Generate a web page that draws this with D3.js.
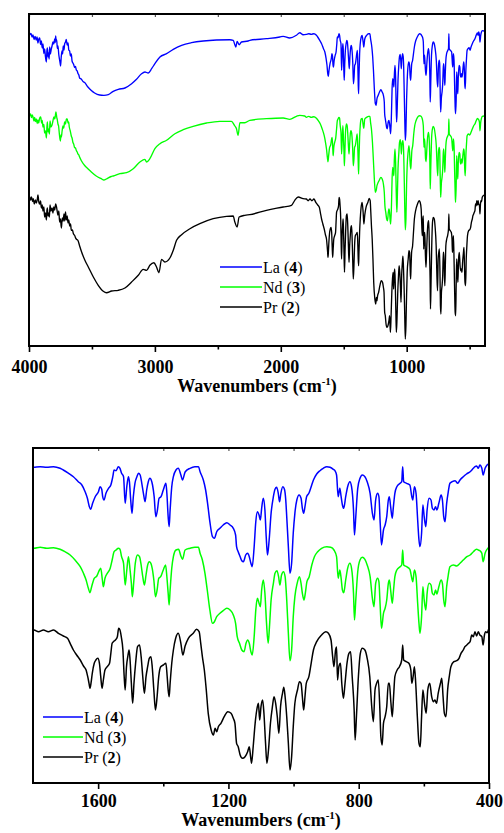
<!DOCTYPE html>
<html>
<head>
<meta charset="utf-8">
<script src="https://cdn.jsdelivr.net/npm/d3@7"></script>
<style>
  body { margin: 0; background: #fff; }
  svg { display: block; }
  svg text { font-family: "Liberation Serif", "Times New Roman", "DejaVu Serif", serif; }
</style>
</head>
<body>
<svg id="chart" width="504" height="833"></svg>
<script>
// IR spectra, [wavenumber (cm-1), relative transmittance]
const laSpectrum = [
  [4000,156],[3995,155],[3985,156.5],[3975,153],[3968,155],[3960,150.5],[3952,153.5],[3942,150],[3936,153],[3929,147],[3922,151],[3915,152],[3908,145.5],[3902,149],[3895,142],[3889,146],[3882,136.5],[3876,141],[3869,133],[3862,128],[3858,139],[3854,142],[3849,133],[3844,137],[3840,131],[3836,143],[3830,136],[3823,141],[3817,144],[3810,148],[3803,146],[3796,151],[3792,147.5],[3788,154],[3784,149],[3780,150],[3775,141.5],[3770,144],[3763,135],[3757,130],[3753,127],[3749,124],[3744,133],[3738,139],[3733,136],[3728,144],[3722,140],[3717,146],[3710,148],[3704,150.5],[3697,145],[3690,147],[3684,140],[3677,139],[3671,134],[3664,136],[3658,129],[3651,127],[3645,125.5],[3638,122.5],[3631,123.5],[3624,120],[3617,119],[3611,116.5],[3604,115],[3598,112],[3585,111],[3571,108.5],[3558,107.5],[3532,103],[3505,99.5],[3479,97],[3439,95],[3405,94.7],[3370,95.3],[3331,98.7],[3291,100.7],[3238,102],[3185,106.3],[3146,110.7],[3106,116.3],[3079,118],[3053,117],[3026,121.3],[3000,126.3],[2960,133],[2907,136.3],[2854,140.7],[2788,144.7],[2709,147.3],[2616,149],[2511,150],[2405,150.3],[2378,149.7],[2365,145.3],[2357,143],[2347,148.7],[2331,145.3],[2312,148],[2259,149],[2246,149.7],[2114,151.3],[2008,153],[1981,153.7],[1929,152],[1876,154.7],[1849,157.3],[1823,155.3],
  [1797,155.7],[1778,156.3],[1758,155.7],[1737,156.3],[1717,154.7],[1707,153],[1691,149.7],[1676,146.3],[1661,141.3],[1650,138],[1640,131.3],[1633,124.7],[1627,116.3],[1623,113.7],[1617,119.7],[1609,126.3],[1599,131.3],[1594,136.3],[1589,133.7],[1586,126.3],[1582,123],[1576,129.7],[1568,134.7],[1561,138],[1555,146.3],[1551,153],[1545,152.3],[1538,156.3],[1533,154.7],[1528,149.7],[1522,146.3],[1517,119.7],[1512,136.3],[1507,146.3],[1504,141.3],[1500,123],[1496,109.7],[1492,126.3],[1487,139.7],[1481,146.3],[1476,149.7],[1471,148],[1466,139.7],[1461,129.7],[1456,121.3],[1451,133],[1446,141.3],[1441,144.7],[1437,143],[1433,138],[1428,126.3],[1423,106.3],[1418,113],[1413,124.7],[1407,126.3],[1400,133],[1392,139.7],[1389,129.7],[1385,106.3],[1382,96.3],[1379,113],[1374,136.3],[1369,146.3],[1361,153],[1354,154.7],[1346,148],[1341,143],[1333,151],[1318,154.7],[1303,156.3],[1292,156.3],[1287,151.3],[1277,143],[1270,133],[1264,119.7],[1257,101.3],[1249,86.3],[1243,84.7],[1236,91.3],[1226,94.7],[1216,98],[1205,100.3],[1195,98],[1185,94.7],[1178,88],[1175,76.3],[1170,71.3],[1164,66.3],[1159,62.3],[1154,61.3],[1147,68],[1141,69.7],[1136,66.3],[1131,59.7],[1127,56.3],[1121,76.3],[1116,101.3],[1111,111.3],[1106,108],[1102,103],[1098,114.7],[1093,124.7],[1088,113],[1084,86.3],[1080,68],[1075,83],[1069,109.7],[1062,126.3],[1057,133.7],[1052,135.7],[1047,129.7],[1043,121.3],[1039,129.7],[1033,136.3],[1028,133.7],[1024,123],[1021,106.3],[1016,76.3],[1011,49.7],[1006,59.7],[1001,89.7],[996,109.7],[990,123],[983,128],[977,124.7],[973,114.7],[969,109.7],[965,116.3],[960,126.3],[953,129.7],[946,136.3],[939,143],[929,149],[919,152.3],[909,154.7],[898,156.3],[888,155.7],[878,153.7],[873,152.3],[868,148],[863,126.3],[858,134.7],[854,126.3],[850,118],[846,114.7],[840,126.3],[834,136.3],[827,141.3],[822,136.3],[816,113],[813,88],[809,106.3],[803,134.7],[796,144.7],[789,148],[781,146.3],[774,141.3],[765,129.7],[758,109.7],[753,103],[748,123],[742,129.7],[738,126.3],[734,99.7],[730,78],[724,93],[719,98],[714,106.3],[709,123],[706,126.3],[702,116.3],[697,104.7],[694,114.7],[689,129.7],[683,136.3],[673,139.7],[668,141.3],[665,156.3],[662,141.3],[653,139.7],[643,138],[637,126.3],[634,123],[629,136.3],[624,129.7],[619,103],[615,83],[612,76.3],[607,89.7],[603,118],[599,106.3],[594,96.3],[590,113],[584,124.7],[578,123],[574,114.7],[569,113],[564,116.3],[560,113],[554,119.7],[547,128],[543,123],[539,106.3],[535,101.3],[530,119.7],[525,131.3],[520,139.7],[513,141.3],[504,142.3],[496,139.7],[489,143],[479,146.3],[469,149],[458,151.3],[448,154.7],[443,156.3],[438,157],[433,154.7],[428,158],[422,154.7],[418,148],[412,154.7],[406,158],[400,159.3],[385,159]
];

const ndSpectrum = [
  [4000,157.3],[3995,156],[3988,158],[3980,154.5],[3974,157],[3968,155],[3960,151],[3955,154.5],[3948,150.5],[3942,153],[3935,148.5],[3929,152],[3923,149],[3915,154],[3907,155],[3900,149],[3895,151.5],[3889,145],[3882,147.5],[3876,139],[3869,141],[3862,134],[3858,144],[3854,150],[3849,140],[3844,143],[3838,138],[3833,151],[3826,145],[3817,147],[3810,151],[3802,155],[3795,153],[3786,160],[3780,155],[3775,152],[3770,148],[3765,146],[3758,137],[3751,131],[3746,137],[3743,135],[3737,141],[3730,146],[3724,144],[3717,150],[3710,148],[3703,153],[3696,153],[3690,149],[3685,150],[3680,145],[3672,141],[3664,136],[3658,134],[3651,129.5],[3645,128],[3638,124.5],[3631,124],[3624,121.5],[3617,120],[3611,118],[3604,117],[3598,115],[3585,111.5],[3558,106.5],[3532,103.3],[3505,100],[3466,96],[3426,93.3],[3405,92],[3386,93],[3347,95.5],[3331,96],[3278,98.3],[3225,99.3],[3172,103.3],[3119,110],[3079,112.7],[3066,110],[3040,113.3],[3000,123.3],[2960,128.3],[2907,131.7],[2841,138.3],[2775,142.3],[2696,145.7],[2590,149],[2484,150.7],[2392,150.7],[2365,146],[2352,143.3],[2339,136.7],[2325,149.3],[2286,149.3],[2246,151.7],[2114,153.3],[1981,154],[1929,152.7],[1876,155.7],[1849,156.7],[1810,156],
  [1797,154.7],[1778,155.7],[1758,154.7],[1737,155.3],[1717,153.7],[1702,151.3],[1686,148],[1671,143],[1655,136.3],[1645,129.7],[1637,123],[1630,114.7],[1625,110.3],[1620,116.3],[1612,124.7],[1604,127],[1596,133],[1592,134.7],[1587,123],[1584,116.3],[1579,124.7],[1572,129.7],[1563,134.7],[1557,143],[1551,151.3],[1545,153],[1538,154.7],[1533,153.7],[1528,146.3],[1522,139.7],[1517,118],[1512,133],[1507,146.3],[1502,133],[1498,119.7],[1495,106.3],[1491,119.7],[1486,139.7],[1479,148],[1473,146.3],[1468,138],[1463,126.3],[1458,118],[1453,128],[1448,138],[1443,141.3],[1438,139.7],[1434,134.7],[1429,123],[1424,106.3],[1419,113],[1414,124.7],[1408,126.3],[1400,133],[1393,138],[1389,126.3],[1385,109.7],[1382,98],[1379,113],[1374,134.7],[1369,146.3],[1361,153],[1353,153.7],[1346,147],[1341,143.7],[1333,153],[1318,154.7],[1303,155.7],[1292,155.7],[1287,149.7],[1280,143],[1272,129.7],[1265,113],[1257,93],[1249,79.7],[1243,81.3],[1236,86.3],[1226,89.7],[1216,92.3],[1205,94.7],[1195,93],[1185,88],[1178,79.7],[1173,66.3],[1166,59.7],[1159,53],[1152,51.3],[1146,59.7],[1141,63],[1136,59.7],[1131,51.3],[1127,48],[1121,66.3],[1116,93],[1111,104.7],[1106,99.7],[1102,96.3],[1098,113],[1093,123],[1088,109.7],[1083,79.7],[1078,59.7],[1074,76.3],[1069,103],[1062,119.7],[1057,129.7],[1051,132.3],[1046,126.3],[1042,118],[1037,128],[1031,131.3],[1026,126.3],[1021,103],[1016,69.7],[1011,42.3],[1006,53],[1001,86.3],[996,106.3],[989,119.7],[982,126.3],[977,119.7],[973,109.7],[968,103],[964,109.7],[959,121.3],[952,126.3],[944,138],[936,146.3],[926,151.3],[914,154.7],[898,156.3],[886,155.7],[876,153],
  [868,146.3],[863,124.7],[858,133],[854,124.7],[850,113],[846,110.3],[840,123],[834,134.7],[827,139.7],[822,134.7],[816,109.7],[813,83],[809,103],[803,131.3],[796,143],[789,145.7],[781,143.7],[774,138],[765,126.3],[758,104.7],[753,96.3],[748,119.7],[742,124.7],[738,121.3],[734,96.3],[730,74.7],[724,89.7],[719,94.7],[714,103],[709,119.7],[706,123],[702,113],[697,99.7],[693,113],[689,126.3],[683,133],[673,136.3],[668,138],[665,153],[662,138],[653,136.3],[643,133.7],[637,124.7],[634,121.3],[629,133],[624,126.3],[619,99.7],[615,79.7],[612,69.7],[607,86.3],[603,116.3],[599,103],[594,93],[590,109.7],[584,119.7],[578,118],[574,109.7],[569,108],[564,113],[560,109],[554,116.3],[547,123],[543,119.7],[539,103],[535,96.3],[530,116.3],[525,128],[520,136.3],[509,138],[499,137],[489,139.7],[479,143],[468,146.3],[458,148],[448,151.3],[438,153.7],[433,153],[428,152.3],[422,149.7],[418,141.3],[412,149.7],[406,153.7],[400,155.7],[385,156]
];

const prSpectrum = [
  [4000,156.7],[3995,155],[3988,152],[3980,155],[3972,150.5],[3966,153.3],[3958,148],[3950,152],[3942,149],[3935,152],[3929,157],[3922,150],[3915,148],[3908,151],[3902,144],[3895,147],[3889,141],[3882,145],[3876,135],[3869,139],[3862,132],[3858,141],[3854,144],[3849,136],[3844,139],[3838,135],[3833,147],[3826,141],[3817,144],[3810,139],[3803,145],[3796,142],[3788,148],[3780,144],[3775,140],[3770,137],[3763,141],[3757,130],[3750,133],[3743,124],[3738,131],[3735,134],[3728,131],[3722,138],[3716,131],[3710,140],[3704,132],[3697,136],[3690,129],[3684,132],[3677,126],[3670,128],[3664,121.7],[3655,122],[3648,118.5],[3638,116.7],[3627,113.3],[3611,111.5],[3600,107],[3582,100],[3556,91.7],[3529,85],[3489,75],[3450,66.7],[3410,60.7],[3384,59.3],[3344,61],[3291,61.7],[3238,64],[3185,70],[3132,76.7],[3093,82.7],[3066,81.7],[3040,86.7],[3008,89.3],[2987,85],[2968,79.3],[2947,92.7],[2921,90],[2881,94],[2854,101.7],[2828,111.7],[2788,117.3],[2722,123.3],[2643,128.3],[2537,133.3],[2431,135.7],[2378,136],[2365,130],[2347,125],[2331,135],[2286,136.7],[2246,137.3],[2114,141.7],[1981,145],[1915,146.7],[1889,151.7],[1862,155],[1823,153.3],
  [1797,153],[1783,151.3],[1768,153],[1753,151.3],[1737,153],[1722,149.7],[1707,147],[1694,144.7],[1686,139.7],[1676,133],[1666,128],[1655,123],[1645,117],[1637,113],[1632,106.3],[1628,99.7],[1625,94.7],[1622,99.7],[1618,109.7],[1612,119.7],[1607,123],[1601,124.7],[1596,119.7],[1592,106.3],[1588,94.7],[1584,103],[1579,113],[1572,116.3],[1565,119.7],[1561,129.7],[1557,139.7],[1553,141.3],[1547,143],[1541,146.3],[1537,154.7],[1533,153],[1529,146.3],[1524,133],[1520,106.3],[1517,93],[1513,116.3],[1509,126.3],[1505,133],[1502,123],[1498,99.7],[1494,79.7],[1490,99.7],[1485,119.7],[1479,136.3],[1473,138],[1468,126.3],[1463,106.3],[1458,89.7],[1453,106.3],[1448,116.3],[1443,124.7],[1438,126.3],[1434,116.3],[1429,93],[1424,73],[1419,86.3],[1414,106.3],[1408,116.3],[1400,118],[1392,119.7],[1388,106.3],[1385,93],[1382,86.3],[1379,99.7],[1374,119.7],[1369,133],[1362,144.7],[1354,149.7],[1346,139.7],[1340,128],[1333,137],[1323,144.7],[1308,149.7],[1298,153.7],[1290,151.3],[1285,139.7],[1280,126.3],[1274,113],[1268,93],[1262,69.7],[1253,53],[1246,48],[1241,54.7],[1236,51.3],[1231,56.3],[1223,59.7],[1213,66.3],[1202,71.3],[1192,69.7],[1185,64.7],[1180,59.7],[1175,39.7],[1170,36.3],[1164,28],[1157,24.7],[1149,26.3],[1141,31.3],[1136,36.3],[1132,26.3],[1129,19.7],[1124,36.3],[1118,59.7],[1113,73],[1108,79.7],[1104,63],[1100,76.3],[1095,83],[1091,69.7],[1086,39.7],[1082,19.7],[1077,33],[1071,59.7],[1065,76.3],[1060,86.3],[1055,79.7],[1050,66.3],[1045,49.7],[1040,76.3],[1034,89.7],[1030,95.7],[1026,86.3],[1021,66.3],[1016,39.7],[1011,13],[1006,26.3],[1001,56.3],[996,79.7],[988,93],[982,101.3],[977,99.7],[973,86.3],[969,73],[965,86.3],[961,99.7],[953,106.3],[946,119.7],[939,133],[929,141.3],[914,148],[901,151.3],[893,149.7],[885,143],[880,126.3],[876,116.3],[871,133],[868,136],[865,103],[861,116.3],[856,119.7],[852,99.7],[847,84.7],[842,99.7],[836,119.7],[830,129.7],[825,131.3],[820,106.3],[814,73],[811,43],[807,66.3],[801,106.3],[795,129.7],[789,134.7],[781,133],[774,124.7],[766,106.3],[760,76.3],[755,61.3],[750,93],[745,99.7],[740,103],[735,73],[732,46.3],[728,38],[724,59.7],[719,66.3],[714,76.3],[709,99.7],[706,99.7],[701,79.7],[697,66.3],[693,86.3],[689,106.3],[682,113],[675,116.3],[668,123],[665,138],[662,123],[654,121.3],[646,119.7],[640,113],[637,99.7],[633,106.3],[629,116.3],[625,99.7],[620,66.3],[615,39.7],[611,36.3],[607,66.3],[603,93],[598,79.7],[593,69.7],[588,93],[582,99.7],[576,86.3],[571,81.3],[566,83],[561,79.7],[556,89.7],[549,99.7],[545,104.7],[541,86.3],[537,69.7],[532,66.3],[527,93],[522,106.3],[517,116.3],[508,121.3],[499,122.3],[492,124.7],[486,129.7],[479,133],[474,136.3],[468,138],[463,139.7],[458,141.3],[453,148],[448,146.3],[443,151.3],[438,147],[433,151.3],[428,148],[422,146.3],[418,138],[414,148],[410,151.3],[406,150.3],[402,153],[400,154.7],[385,157]
];

const seriesNames = ["La", "Nd", "Pr"];
const seriesNumbers = ["4", "3", "2"];
const seriesColors = ["#0000ff", "#00ff00", "#000000"];

const fullTicks = [4000, 3000, 2000, 1000];
const fullMinorTicks = [3500, 2500, 1500, 500];
const zoomTicks = [1600, 1200, 800, 400];
const zoomMinorTicks = [1400, 1000, 600];

const spectra = [laSpectrum, ndSpectrum, prSpectrum];

// layout of the two panels; offsets stack the three traces vertically
const panels = [
  { id: "full", left: 29, right: 485, top: 14, bottom: 346, domain: [4000, 378],
    major: fullTicks, minor: fullMinorTicks, offsets: [156, 74, -6], lineWidth: 1.35,
    labelY: 27, titleY: 46, titleX: 257, legendX: 220, legendY: 267, legendLen: 42 },
  { id: "zoom", left: 33, right: 489, top: 448, bottom: 783, domain: [1800, 400],
    major: zoomTicks, minor: zoomMinorTicks, offsets: [160, 80, 0], lineWidth: 1.5,
    labelY: 24, titleY: 43, titleX: 261, legendX: 43, legendY: 717, legendLen: 40 }
];

const svg = d3.select("#chart");

panels.forEach(p => {
  const x = d3.scaleLinear().domain(p.domain).range([p.left, p.right]);
  const y = d3.scaleLinear().domain([0, p.bottom - p.top]).range([p.bottom, p.top]);
  const g = svg.append("g").attr("class", "panel-" + p.id);

  g.append("clipPath").attr("id", "clip-" + p.id)
    .append("rect")
    .attr("x", p.left).attr("y", p.top)
    .attr("width", p.right - p.left).attr("height", p.bottom - p.top);

  const traces = g.append("g").attr("clip-path", `url(#clip-${p.id})`);
  [2, 1, 0].forEach(i => {
    const off = p.offsets[i];
    const pts = spectra[i].filter(d => d[0] <= p.domain[0] + 40 && d[0] >= p.domain[1] - 40);
    const line = d3.line()
      .x(d => x(d[0]))
      .y(d => y(d[1] + off))
      .curve(d3.curveMonotoneX);
    traces.append("path")
      .datum(pts)
      .attr("d", line)
      .attr("fill", "none")
      .attr("stroke", seriesColors[i])
      .attr("stroke-width", p.lineWidth)
      .attr("stroke-linejoin", "round");
  });

  // bottom axis: labelled major ticks and unlabelled minor ticks, pointing outward
  const axMajor = g.append("g").attr("transform", `translate(0,${p.bottom})`)
    .call(d3.axisBottom(x).tickValues(p.major).tickSize(6).tickSizeOuter(0).tickFormat(d3.format("d")));
  axMajor.select(".domain").remove();
  axMajor.attr("font-family", null).attr("font-size", null);
  axMajor.selectAll(".tick line").attr("stroke", "#000").attr("stroke-width", 1.6);
  axMajor.selectAll(".tick text")
    .attr("y", p.labelY).attr("dy", null)
    .attr("font-weight", "bold").attr("font-size", 18)
    .attr("fill", "#000");

  const axMinor = g.append("g").attr("transform", `translate(0,${p.bottom})`)
    .call(d3.axisBottom(x).tickValues(p.minor).tickSize(3.5).tickSizeOuter(0).tickFormat(""));
  axMinor.select(".domain").remove();
  axMinor.selectAll(".tick line").attr("stroke", "#000").attr("stroke-width", 1.6);

  // top edge ticks pointing inward
  const axTop = g.append("g").attr("transform", `translate(0,${p.top})`)
    .call(d3.axisTop(x).tickValues(p.major.concat(p.minor)).tickSize(-3).tickSizeOuter(0).tickFormat(""));
  axTop.select(".domain").remove();
  axTop.selectAll(".tick line").attr("stroke", "#555").attr("stroke-width", 1.2);

  // frame
  g.append("rect")
    .attr("x", p.left).attr("y", p.top)
    .attr("width", p.right - p.left).attr("height", p.bottom - p.top)
    .attr("fill", "none").attr("stroke", "#000").attr("stroke-width", 2);

  // axis title
  const title = g.append("text")
    .attr("x", p.titleX).attr("y", p.bottom + p.titleY)
    .attr("text-anchor", "middle")
    .attr("font-weight", "bold").attr("font-size", 18);
  title.append("tspan").text("Wavenumbers (cm");
  title.append("tspan").attr("dy", -7).attr("font-size", 11).text("-1");
  title.append("tspan").attr("dy", 7).text(")");

  // legend
  seriesNames.forEach((name, i) => {
    const ly = p.legendY + i * 20;
    g.append("line")
      .attr("x1", p.legendX).attr("x2", p.legendX + p.legendLen)
      .attr("y1", ly).attr("y2", ly)
      .attr("stroke", seriesColors[i]).attr("stroke-width", 1.5);
    const t = g.append("text")
      .attr("x", p.legendX + p.legendLen + 1).attr("y", ly + 6)
      .attr("font-size", 16).attr("fill", "#000");
    t.append("tspan").text(name + " (");
    t.append("tspan").attr("font-weight", "bold").text(seriesNumbers[i]);
    t.append("tspan").text(")");
  });
});
</script>
</body>
</html>
